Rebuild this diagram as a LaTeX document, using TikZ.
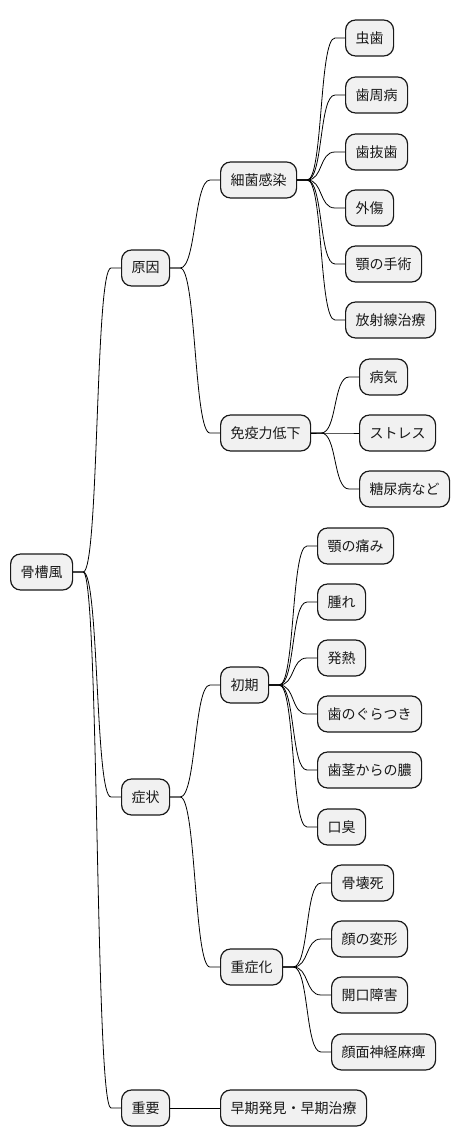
\documentclass[tikz,border=0pt]{standalone}
\usepackage{fontspec}
\setmainfont{Noto Sans CJK JP}
\begin{document}
\begin{tikzpicture}[x=1pt,y=-1pt,
  box/.style={draw=black!90,line width=1.2pt,fill=black!5.5,rounded corners=10pt,
    anchor=west,minimum height=36pt,inner xsep=10pt,inner ysep=0pt,
    font=\fontsize{14pt}{16pt}\selectfont,text=black!90},
  conn/.style={line width=0.8pt,to path={-- ++(10,0) .. controls +(16,0) and +(-16,0) .. ([xshift=-10pt]\tikztotarget.west) -- (\tikztotarget.west)}}]
\useasboundingbox (0,0) rectangle (460,1146);
% nodes
\node[box] (root) at (10,572) {骨槽風};
\node[box] (gen) at (121,268) {原因};
\node[box] (kin) at (220,180) {細菌感染};
\node[box] (l1) at (345,38) {虫歯};
\node[box] (l2) at (345,95) {歯周病};
\node[box] (l3) at (345,152) {歯抜歯};
\node[box] (l4) at (345,208) {外傷};
\node[box] (l5) at (345,264) {顎の手術};
\node[box] (l6) at (345,320) {放射線治療};
\node[box] (men) at (220,433) {免疫力低下};
\node[box] (m1) at (359,377) {病気};
\node[box] (m2) at (359,433) {ストレス};
\node[box] (m3) at (359,489) {糖尿病など};
\node[box] (sho) at (121,797) {症状};
\node[box] (sho1) at (220,685) {初期};
\node[box] (s1) at (317,546) {顎の痛み};
\node[box] (s2) at (317,602) {腫れ};
\node[box] (s3) at (317,658) {発熱};
\node[box] (s4) at (317,714) {歯のぐらつき};
\node[box] (s5) at (317,770) {歯茎からの膿};
\node[box] (s6) at (317,827) {口臭};
\node[box] (ju) at (220,967) {重症化};
\node[box] (j1) at (331,883) {骨壊死};
\node[box] (j2) at (331,939) {顔の変形};
\node[box] (j3) at (331,995) {開口障害};
\node[box] (j4) at (331,1052) {顔面神経麻痺};
\node[box] (imp) at (121,1108) {重要};
\node[box] (imp1) at (220,1108) {早期発見・早期治療};
% connectors
\foreach \a/\b in {root/gen,root/sho,root/imp,gen/kin,gen/men,
  kin/l1,kin/l2,kin/l3,kin/l4,kin/l5,kin/l6,men/m1,men/m2,men/m3,
  sho/sho1,sho/ju,sho1/s1,sho1/s2,sho1/s3,sho1/s4,sho1/s5,sho1/s6,
  ju/j1,ju/j2,ju/j3,ju/j4,imp/imp1}
  \draw[conn] (\a.east) to (\b);
\end{tikzpicture}
\end{document}
